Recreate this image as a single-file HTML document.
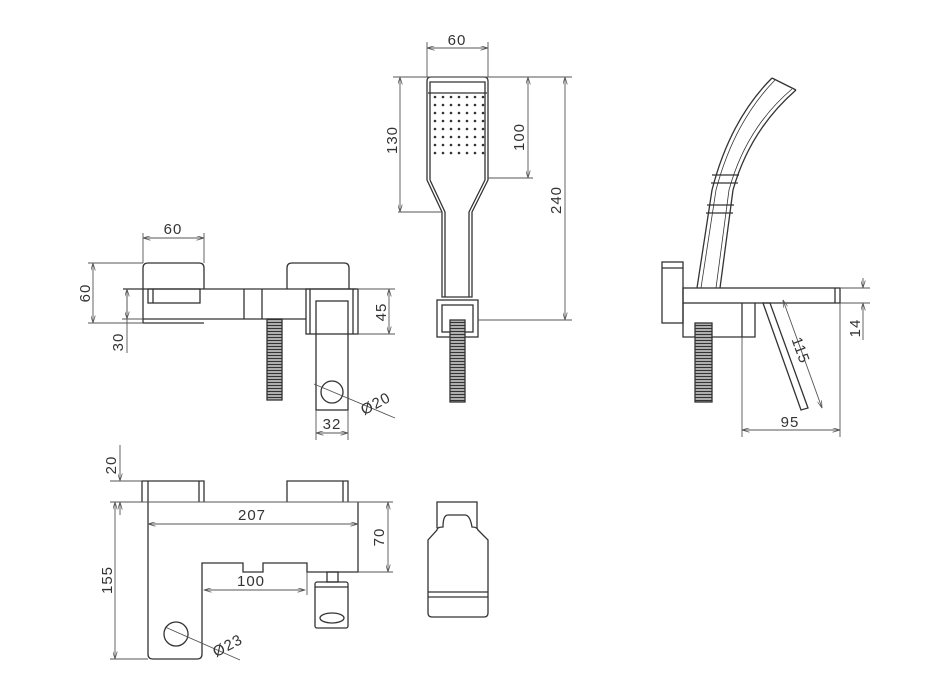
<!DOCTYPE html>
<html><head><meta charset="utf-8"><style>
html,body{margin:0;padding:0;background:#fff;}
svg{display:block}
text{font-family:"Liberation Sans",sans-serif;font-size:15px;fill:#333;letter-spacing:1px}
</style></head><body>
<svg width="943" height="684" viewBox="0 0 943 684" xmlns="http://www.w3.org/2000/svg">
<defs>
<marker id="a" viewBox="0 0 10 6" refX="10" refY="3" markerWidth="9" markerHeight="5" orient="auto-start-reverse"><path d="M0,0 L10,3 L0,6" fill="none" stroke="#555" stroke-width="1"/></marker>
<pattern id="th" width="4" height="3" patternUnits="userSpaceOnUse"><rect width="4" height="3" fill="#bbb"/><line x1="0" y1="1.5" x2="4" y2="1.5" stroke="#333" stroke-width="1.2"/></pattern>
</defs>
<g fill="none" stroke="#333" stroke-width="1.3">
<!-- FRONT VIEW -->
<path d="M143,323 V268 Q143,263 148,263 H199 Q204,263 204,268 V289"/>
<line x1="143" y1="323" x2="204" y2="323"/>
<rect x="148" y="289" width="52" height="14"/>
<line x1="153" y1="289" x2="153" y2="303"/>
<line x1="123" y1="289" x2="356" y2="289"/>
<line x1="143" y1="319" x2="306" y2="319"/>
<line x1="244" y1="289" x2="244" y2="319"/><line x1="262" y1="289" x2="262" y2="319"/>
<path d="M287,289 V268 Q287,263 292,263 H344 Q349,263 349,268 V289"/>
<rect x="306" y="289" width="52" height="45"/>
<line x1="353" y1="289" x2="353" y2="334"/><line x1="310" y1="289" x2="310" y2="334"/>
<rect x="316" y="301" width="32" height="109"/>
<circle cx="332" cy="392" r="11"/>
<rect x="267" y="319" width="15" height="81" fill="url(#th)"/>
<!-- HAND SHOWER -->
<path d="M427,180 V81 Q427,77 431,77 H484 Q488,77 488,81 V180 L472,212 V297 H442 V212 L427,180 Z"/>
<path d="M430,180 V82 H485 V180 L469,212 V297 M445,297 V212 L430,180"/>
<line x1="428" y1="93" x2="487" y2="93"/>
<rect x="437" y="300" width="41" height="37"/>
<rect x="442" y="305" width="31" height="27"/>
<rect x="450" y="320" width="15" height="82" fill="url(#th)"/>
<!-- SIDE VIEW -->
<path d="M697,288 L712,190 Q730,120 772,78 M720,288 L733,190 Q750,130 796,90 M772,78 L796,90"/>
<path d="M701,288 L716,190 Q734,122 775,80 M716,288 L729,190 Q746,128 792,89" stroke-width="0.8"/>
<line x1="712" y1="175" x2="739" y2="175"/><line x1="711" y1="183" x2="738" y2="183"/>
<line x1="707" y1="205" x2="734" y2="205"/><line x1="706" y1="213" x2="733" y2="213"/>
<rect x="662" y="262" width="21" height="61"/>
<line x1="662" y1="268" x2="683" y2="268"/>
<rect x="683" y="288" width="157" height="15"/>
<line x1="835" y1="288" x2="835" y2="303"/>
<path d="M683,303 V337 H755 V303"/>
<line x1="742" y1="303" x2="742" y2="337"/>
<rect x="695" y="323" width="17" height="79" fill="url(#th)"/>
<path d="M763,303 L770,303 L808,408 L801,410 Z"/>
<!-- TOP VIEW -->
<path d="M142,502 V481 H204 V502 M148,481 V502 M199,481 V502"/>
<path d="M287,502 V481 H348 V502 M343,481 V502"/>
<path d="M148,502 V654 Q148,659 153,659 H197 Q202,659 202,654 V563 H243 V572 H263 V563 H307 V572 H358 V502"/>
<circle cx="176" cy="634" r="12"/>
<rect x="327" y="572" width="11" height="10"/>
<rect x="315" y="582" width="33" height="46" rx="2"/>
<line x1="315" y1="587" x2="348" y2="587"/>
<ellipse cx="332" cy="618" rx="12" ry="5"/>
<path d="M437,528 V502 H477 V528"/>
<path d="M443,527 Q437,527 437,530 L428,540 V613 Q428,617 432,617 H484 Q488,617 488,613 V540 L478,530 Q477,527 472,527 Q470,515 465,515 H448 Q443,515 443,527 Z"/>
<line x1="428" y1="592" x2="488" y2="592"/><line x1="428" y1="597" x2="488" y2="597"/>
</g>
<!-- dots -->
<g fill="#333">
<g id="r"><circle cx="435" cy="97" r="1.3"/><circle cx="443" cy="97" r="1.3"/><circle cx="451" cy="97" r="1.3"/><circle cx="459" cy="97" r="1.3"/><circle cx="467" cy="97" r="1.3"/><circle cx="475" cy="97" r="1.3"/><circle cx="483" cy="97" r="1.3"/></g>
<use href="#r" y="8"/><use href="#r" y="16"/><use href="#r" y="24"/><use href="#r" y="32"/><use href="#r" y="40"/><use href="#r" y="48"/><use href="#r" y="56"/>
</g>
<!-- dimension lines -->
<g fill="none" stroke="#555" stroke-width="0.9">
<line x1="143" y1="233" x2="143" y2="263"/><line x1="204" y1="233" x2="204" y2="263"/>
<line x1="143" y1="238" x2="204" y2="238" marker-start="url(#a)" marker-end="url(#a)"/>
<line x1="88" y1="263" x2="143" y2="263"/><line x1="88" y1="323" x2="143" y2="323"/>
<line x1="93" y1="263" x2="93" y2="323" marker-start="url(#a)" marker-end="url(#a)"/>
<line x1="122" y1="319" x2="143" y2="319"/>
<line x1="127" y1="289" x2="127" y2="353" /><line x1="127" y1="289" x2="127" y2="319" marker-start="url(#a)" marker-end="url(#a)"/>
<line x1="358" y1="289" x2="395" y2="289"/><line x1="358" y1="334" x2="395" y2="334"/>
<line x1="389" y1="289" x2="389" y2="334" marker-start="url(#a)" marker-end="url(#a)"/>
<line x1="316" y1="410" x2="316" y2="440"/><line x1="348" y1="410" x2="348" y2="440"/>
<line x1="316" y1="433" x2="348" y2="433" marker-start="url(#a)" marker-end="url(#a)"/>
<line x1="314" y1="384" x2="395" y2="418"/>
<line x1="427" y1="42" x2="427" y2="77"/><line x1="488" y1="42" x2="488" y2="77"/>
<line x1="427" y1="48" x2="488" y2="48" marker-start="url(#a)" marker-end="url(#a)"/>
<line x1="393" y1="77" x2="572" y2="77"/>
<line x1="398" y1="212" x2="442" y2="212"/>
<line x1="400" y1="77" x2="400" y2="212" marker-start="url(#a)" marker-end="url(#a)"/>
<line x1="488" y1="178" x2="533" y2="178"/>
<line x1="528" y1="77" x2="528" y2="178" marker-start="url(#a)" marker-end="url(#a)"/>
<line x1="478" y1="320" x2="572" y2="320"/>
<line x1="565" y1="77" x2="565" y2="320" marker-start="url(#a)" marker-end="url(#a)"/>
<line x1="840" y1="288" x2="870" y2="288"/><line x1="840" y1="303" x2="870" y2="303"/>
<line x1="863" y1="278" x2="863" y2="288" marker-end="url(#a)"/>
<line x1="863" y1="340" x2="863" y2="303" marker-end="url(#a)"/>
<line x1="742" y1="337" x2="742" y2="437"/><line x1="840" y1="303" x2="840" y2="437"/>
<line x1="742" y1="430" x2="840" y2="430" marker-start="url(#a)" marker-end="url(#a)"/>
<line x1="783" y1="300" x2="822" y2="408" marker-start="url(#a)" marker-end="url(#a)"/>
<line x1="110" y1="481" x2="142" y2="481"/><line x1="110" y1="502" x2="393" y2="502"/>
<line x1="120" y1="445" x2="120" y2="481" marker-end="url(#a)"/>
<line x1="120" y1="515" x2="120" y2="502" marker-end="url(#a)"/>
<line x1="110" y1="659" x2="148" y2="659"/>
<line x1="115" y1="502" x2="115" y2="659" marker-start="url(#a)" marker-end="url(#a)"/>
<line x1="148" y1="524" x2="358" y2="524" marker-start="url(#a)" marker-end="url(#a)"/>
<line x1="358" y1="572" x2="393" y2="572"/>
<line x1="388" y1="502" x2="388" y2="572" marker-start="url(#a)" marker-end="url(#a)"/>
<line x1="307" y1="572" x2="307" y2="595"/>
<line x1="204" y1="590" x2="305" y2="590" marker-start="url(#a)" marker-end="url(#a)"/>
<line x1="165" y1="627" x2="240" y2="660"/>
</g>
<!-- labels -->
<text x="173" y="234" text-anchor="middle">60</text>
<text transform="translate(90,293) rotate(-90)" text-anchor="middle">60</text>
<text transform="translate(123,342) rotate(-90)" text-anchor="middle">30</text>
<text transform="translate(386,312) rotate(-90)" text-anchor="middle">45</text>
<text x="332" y="429" text-anchor="middle">32</text>
<text transform="translate(378,408) rotate(-28)" text-anchor="middle">Ø20</text>
<text x="457" y="45" text-anchor="middle">60</text>
<text transform="translate(397,140) rotate(-90)" text-anchor="middle">130</text>
<text transform="translate(524,137) rotate(-90)" text-anchor="middle">100</text>
<text transform="translate(561,200) rotate(-90)" text-anchor="middle">240</text>
<text transform="translate(860,328) rotate(-90)" text-anchor="middle">14</text>
<text x="790" y="427" text-anchor="middle">95</text>
<text transform="translate(796,352) rotate(70)" text-anchor="middle">115</text>
<text transform="translate(116,465) rotate(-90)" text-anchor="middle">20</text>
<text transform="translate(112,580) rotate(-90)" text-anchor="middle">155</text>
<text x="252" y="520" text-anchor="middle">207</text>
<text transform="translate(384,537) rotate(-90)" text-anchor="middle">70</text>
<text x="251" y="586" text-anchor="middle">100</text>
<text transform="translate(230,650) rotate(-28)" text-anchor="middle">Ø23</text>
</svg>
</body></html>
